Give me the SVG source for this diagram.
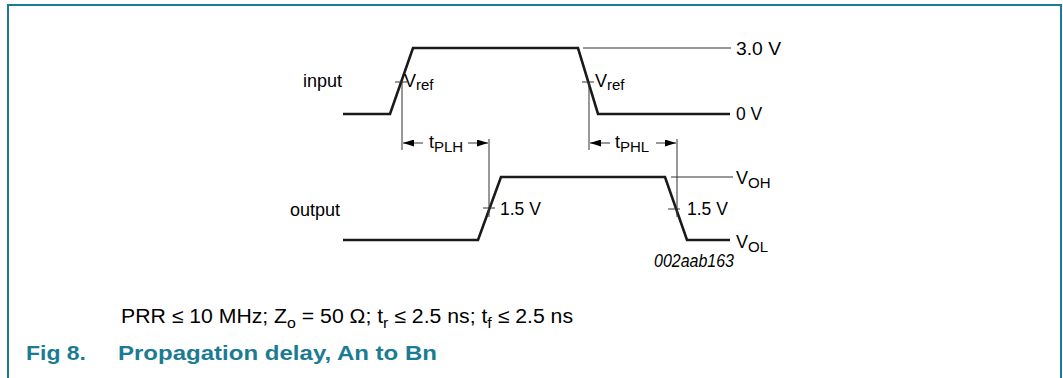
<svg xmlns="http://www.w3.org/2000/svg" width="1063" height="378" viewBox="0 0 1063 378">
<style>
text{font-family:"Liberation Sans",Arial,sans-serif;font-size:18px;fill:#000}
.sub{font-size:15px}
.num{font-size:17.5px}
.wave{fill:none;stroke:#1a1a1a;stroke-width:2.6;stroke-linejoin:miter}
.thin{fill:none;stroke:#333;stroke-width:1}
.cap{font-size:20px}
.fig{font-size:21px;font-weight:bold;fill:#1b7b93}
</style>
<defs>
<marker id="ah" viewBox="0 0 11 7" refX="11" refY="3.5" markerWidth="11" markerHeight="7" markerUnits="userSpaceOnUse" orient="auto">
<path d="M0,0 L11,3.5 L0,7 Z" fill="#000"/>
</marker>
</defs>
<rect x="0" y="0" width="1063" height="378" fill="#fff"/>
<path d="M8,378 V5 H1061 V378" fill="none" stroke="#1b7b93" stroke-width="2"/>
<g id="input">
<text x="303" y="87">input</text>
<polyline class="wave" points="343,114 390,114 413,48 578,48 598,114 730,114"/>
</g>
<g id="output">
<text x="290" y="216">output</text>
<polyline class="wave" points="343,240 478,240 501,177 665,177 687,240 730,240"/>
</g>
<g id="levels">
<line class="thin" x1="583" y1="48" x2="731" y2="48"/>
<text class="num" x="736" y="55" textLength="45" lengthAdjust="spacingAndGlyphs">3.0 V</text>
<text class="num" x="736" y="120">0 V</text>
<line class="thin" x1="671" y1="177" x2="733" y2="177"/>
<text x="736" y="184">V<tspan class="sub" dy="4">OH</tspan></text>
<text x="736" y="248">V<tspan class="sub" dy="4">OL</tspan></text>
</g>
<g id="markers">
<line class="thin" x1="395" y1="82" x2="407" y2="82"/>
<text x="404" y="87">V<tspan class="sub" dy="3">ref</tspan></text>
<line class="thin" x1="582" y1="82" x2="594" y2="82"/>
<text x="595" y="87">V<tspan class="sub" dy="3">ref</tspan></text>
<line class="thin" x1="483" y1="208" x2="495" y2="208"/>
<text class="num" x="500" y="215">1.5 V</text>
<line class="thin" x1="668" y1="209" x2="680" y2="209"/>
<text class="num" x="687" y="215">1.5 V</text>
<text x="654" y="267" font-style="italic" font-size="15" fill="#333" textLength="80" lengthAdjust="spacingAndGlyphs">002aab163</text>
</g>
<g id="connectors">
<line class="thin" x1="402" y1="82" x2="402" y2="150"/>
<line class="thin" x1="589" y1="82" x2="589" y2="150"/>
<line class="thin" x1="489" y1="139" x2="489" y2="217"/>
<line class="thin" x1="677" y1="139" x2="677" y2="217"/>
<line class="thin" x1="423" y1="143" x2="403" y2="143" marker-end="url(#ah)"/>
<line class="thin" x1="468" y1="143" x2="488" y2="143" marker-end="url(#ah)"/>
<line class="thin" x1="610" y1="143" x2="590" y2="143" marker-end="url(#ah)"/>
<line class="thin" x1="656" y1="143" x2="676" y2="143" marker-end="url(#ah)"/>
<text x="429" y="148">t<tspan class="sub" dy="4">PLH</tspan></text>
<text x="615" y="148">t<tspan class="sub" dy="4">PHL</tspan></text>
</g>
<g id="caption">
<text class="cap" x="121" y="323" textLength="452" lengthAdjust="spacingAndGlyphs">PRR ≤ 10 MHz; Z<tspan class="sub" dy="5">o</tspan><tspan dy="-5"> = 50 Ω; t</tspan><tspan class="sub" dy="5">r</tspan><tspan dy="-5"> ≤ 2.5 ns; t</tspan><tspan class="sub" dy="5">f</tspan><tspan dy="-5"> ≤ 2.5 ns</tspan></text>
<text class="fig" x="26" y="360" textLength="60" lengthAdjust="spacingAndGlyphs">Fig 8.</text>
<text class="fig" x="118" y="360" textLength="319" lengthAdjust="spacingAndGlyphs">Propagation delay, An to Bn</text>
</g>
</svg>
